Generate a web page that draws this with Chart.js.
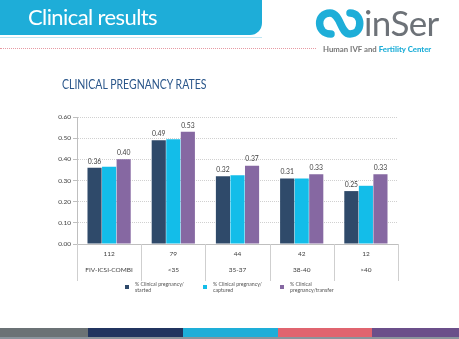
<!DOCTYPE html>
<html>
<head>
<meta charset="utf-8">
<script src="https://cdn.jsdelivr.net/npm/chart.js@4.4.1/dist/chart.umd.min.js"></script>
<style>
  body { margin: 0; background: #fff; font-family: Lato, 'Open Sans', sans-serif; }
  #wrap { position: relative; width: 459px; height: 339px; overflow: hidden; }
  #chart { position: absolute; left: 0; top: 0; }
  .abs { position: absolute; white-space: nowrap; }
  .hdr { left: 0; top: 0; width: 262px; height: 35px; background: #1eadd8; border-bottom-right-radius: 12px; }
  .hdr-title { left: 28px; top: 3px; color: #fff; font-size: 22px; letter-spacing: -0.6px; }
  .hdr-line { left: 0; top: 37px; width: 262px; height: 1px; background: #bfe6f3; }
  .dots { left: 0; top: 48px; width: 316px; border-top: 1px dotted #e79aa3; }
  .brand { left: 364px; top: 1px; font-size: 35px; color: #6d7278; letter-spacing: -0.6px; }
  .tag { left: 323px; top: 44px; font-size: 7.8px; font-weight: bold; color: #777; }
  .tag b { color: #1eaed8; }
  .title { left: 62px; top: 77px; font-size: 12.5px; color: #2a568a; transform: scaleX(0.84); transform-origin: left top; }
  .leg { font-size: 5.2px; line-height: 5.6px; color: #555; }
  .sw { width: 4px; height: 4px; }
  .stripe { top: 328px; height: 9px; }
</style>
</head>
<body>
<div id="wrap">
  <canvas id="chart" width="459" height="339"></canvas>
  <div class="abs hdr"></div>
  <div class="abs hdr-title">Clinical results</div>
  <div class="abs hdr-line"></div>
  <div class="abs dots"></div>
  <svg class="abs" style="left:0;top:0" width="459" height="60">
    <path d="M331 34 C316 34 316 13 330 13 C341 13 340 34 350 34 C363 34 363 13 350 13" fill="none" stroke="#1eaed8" stroke-width="7.5" stroke-linecap="round"/>
  </svg>
  <div class="abs brand">inSer</div>
  <div class="abs tag">Human IVF and <b>Fertility Center</b></div>
  <div class="abs title">CLINICAL PREGNANCY RATES</div>
  <div id="legend"></div>
  <div class="abs stripe" style="left:0;width:88px;background:#6b7275"></div>
  <div class="abs stripe" style="left:88px;width:95px;background:#21345f"></div>
  <div class="abs stripe" style="left:183px;width:95px;background:#1eaed8"></div>
  <div class="abs stripe" style="left:278px;width:94px;background:#e0646f"></div>
  <div class="abs stripe" style="left:372px;width:87px;background:#6b4f8a"></div>
  <div class="abs" style="left:0;top:337px;width:459px;height:2px;background:#8a949c"></div>
</div>
<script>
const categories = ['FIV-ICSI-COMBI', '<35', '35-37', '38-40', '>40'];
const counts = ['112', '79', '44', '42', '12'];
const started = [0.36, 0.49, 0.32, 0.31, 0.25];
const captured = [0.365, 0.495, 0.325, 0.31, 0.275];
const transfer = [0.40, 0.53, 0.37, 0.33, 0.33];
const seriesNames = [['% Clinical pregnancy/', 'started'], ['% Clinical pregnancy/', 'captured'], ['% Clinical', 'pregnancy/transfer']];
const colors = ['#2f4a6a', '#13bde9', '#8668a2'];
const labelled = [0, 2];

// legend (html, two-line labels)
const legX = [125, 203, 280];
document.getElementById('legend').innerHTML = seriesNames.map((n, i) => `
  <div class="abs sw" style="left:${legX[i]}px;top:285px;background:${colors[i]}"></div>
  <div class="abs leg" style="left:${legX[i] + 10}px;top:282px">${n[0]}<br>${n[1]}</div>`).join('');

const valueLabels = {
  id: 'valueLabels',
  afterDatasetsDraw(chart) {
    const ctx = chart.ctx;
    ctx.save();
    ctx.font = '6.8px Lato';
    ctx.fillStyle = '#404040';
    ctx.textAlign = 'center';
    ctx.textBaseline = 'bottom';
    labelled.forEach(di => {
      chart.getDatasetMeta(di).data.forEach((bar, i) => {
        ctx.fillText(chart.data.datasets[di].data[i].toFixed(2), bar.x, bar.y - 3);
      });
    });
    ctx.restore();
  }
};

const tableLines = {
  id: 'tableLines',
  afterDraw(chart) {
    const x = chart.scales.x, a = chart.chartArea, ctx = chart.ctx;
    const half = (x.getPixelForValue(1) - x.getPixelForValue(0)) / 2;
    ctx.save();
    ctx.strokeStyle = '#cfcfcf';
    ctx.lineWidth = 1;
    for (let i = 0; i <= categories.length; i++) {
      const px = Math.round(x.getPixelForValue(i) - half) + 0.5;
      ctx.beginPath();
      ctx.moveTo(px, a.bottom);
      ctx.lineTo(px, 281);
      ctx.stroke();
    }
    ctx.restore();
  }
};

new Chart(document.getElementById('chart'), {
  type: 'bar',
  data: {
    labels: categories,
    datasets: [
      { data: started, backgroundColor: colors[0] },
      { data: captured, backgroundColor: colors[1] },
      { data: transfer, backgroundColor: colors[2] }
    ]
  },
  options: {
    responsive: false,
    animation: false,
    categoryPercentage: 0.68,
    barPercentage: 0.97,
    layout: { padding: { left: 0, right: 61, top: 117, bottom: 55 } },
    plugins: { legend: { display: false }, tooltip: { enabled: false } },
    scales: {
      x: {
        afterFit(s) { s.height = 40; },
        grid: { display: false },
        border: { color: '#bfbfbf' },
        ticks: {
          font: { family: 'Lato', size: 6.5, lineHeight: 2.6 },
          color: '#404040',
          padding: -7,
          callback: (v, i) => [counts[i], categories[i]]
        }
      },
      y: {
        min: 0, max: 0.6,
        afterFit(s) { s.width = 77; },
        border: { color: '#bfbfbf', dash: [1, 1] },
        grid: { color: '#d0d0d0', tickColor: '#bfbfbf', tickLength: 4, tickBorderDash: [] },
        ticks: {
          stepSize: 0.1,
          font: { family: 'Lato', size: 6.5 },
          color: '#404040',
          padding: 2,
          callback: v => v.toFixed(2)
        }
      }
    }
  },
  plugins: [valueLabels, tableLines]
});
</script>
</body>
</html>
